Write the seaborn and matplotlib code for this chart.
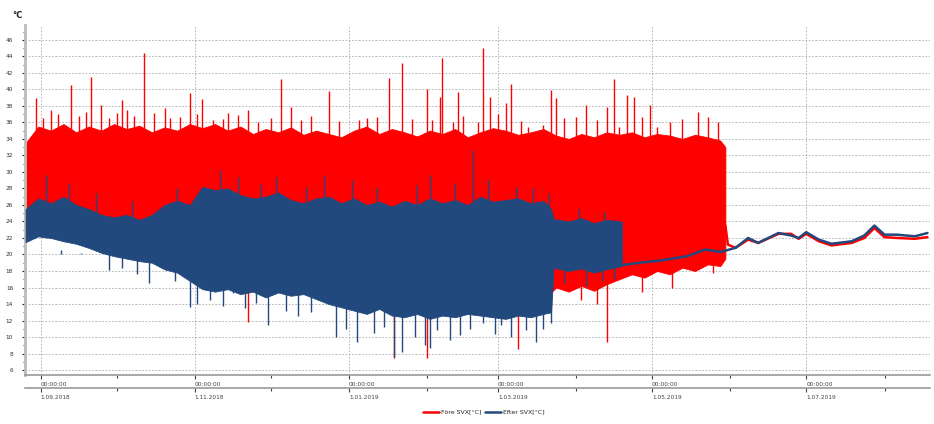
import numpy as np
import pandas as pd
import matplotlib
matplotlib.use("Agg")
import matplotlib.pyplot as plt
import seaborn as sns
from matplotlib.ticker import MultipleLocator

# ---------------- data ----------------
red_dates = ["2018-08-26", "2018-08-31", "2018-09-05", "2018-09-10", "2018-09-15", "2018-09-20",
             "2018-09-25", "2018-09-30", "2018-10-05", "2018-10-10", "2018-10-15", "2018-10-20",
             "2018-10-25", "2018-10-30", "2018-11-04", "2018-11-09", "2018-11-14", "2018-11-19",
             "2018-11-24", "2018-11-29", "2018-12-04", "2018-12-09", "2018-12-14", "2018-12-19",
             "2018-12-24", "2018-12-29", "2019-01-03", "2019-01-08", "2019-01-13", "2019-01-18",
             "2019-01-23", "2019-01-28", "2019-02-02", "2019-02-07", "2019-02-12", "2019-02-17",
             "2019-02-22", "2019-02-27", "2019-03-04", "2019-03-09", "2019-03-14", "2019-03-19",
             "2019-03-24", "2019-03-29", "2019-04-03", "2019-04-08", "2019-04-13", "2019-04-18",
             "2019-04-23", "2019-04-28", "2019-05-03", "2019-05-08", "2019-05-13", "2019-05-18",
             "2019-05-23", "2019-05-28", "2019-05-30"]
red_high = [33.5, 35.5, 35.0, 35.8, 34.8, 35.5, 35.0, 35.8, 35.2, 35.6, 34.8, 35.4, 35.0, 35.8,
            35.3, 35.8, 35.0, 35.5, 34.6, 35.2, 34.8, 35.4, 34.5, 35.0, 34.6, 34.2, 35.0, 35.5,
            34.6, 35.2, 34.8, 34.3, 35.0, 34.6, 35.2, 34.2, 34.8, 35.3, 35.0, 34.5, 34.8, 35.2,
            34.4, 34.0, 34.6, 34.2, 34.8, 34.5, 34.8, 34.2, 34.6, 34.4, 34.0, 34.5, 34.2, 33.8, 33.0]
red_low = [22.3, 22.6, 22.4, 22.0, 22.2, 21.5, 21.2, 21.0, 20.8, 21.0, 20.5, 20.2, 19.5, 18.5,
           17.0, 17.0, 16.5, 16.5, 16.5, 16.5, 16.5, 16.0, 16.0, 16.0, 15.5, 15.0, 14.5, 14.5,
           14.5, 14.5, 14.0, 14.0, 14.0, 14.0, 14.0, 14.0, 14.0, 14.0, 14.0, 14.0, 14.0, 14.5,
           16.0, 15.5, 16.2, 15.6, 16.4, 17.0, 17.6, 17.2, 18.0, 17.6, 18.4, 18.0, 18.8, 18.6, 19.5]

blue_dates = ["2018-08-26", "2018-08-31", "2018-09-05", "2018-09-10", "2018-09-15", "2018-09-20",
              "2018-09-25", "2018-09-30", "2018-10-05", "2018-10-10", "2018-10-15", "2018-10-20",
              "2018-10-25", "2018-10-30", "2018-11-04", "2018-11-09", "2018-11-14", "2018-11-19",
              "2018-11-24", "2018-11-29", "2018-12-04", "2018-12-09", "2018-12-14", "2018-12-19",
              "2018-12-24", "2018-12-29", "2019-01-03", "2019-01-08", "2019-01-13", "2019-01-18",
              "2019-01-23", "2019-01-28", "2019-02-02", "2019-02-07", "2019-02-12", "2019-02-17",
              "2019-02-22", "2019-02-27", "2019-03-04", "2019-03-09", "2019-03-14", "2019-03-19",
              "2019-03-22", "2019-03-23", "2019-03-29", "2019-04-03", "2019-04-08", "2019-04-13",
              "2019-04-19"]
blue_high = [25.5, 26.8, 26.2, 27.0, 26.0, 25.5, 24.8, 24.5, 24.8, 24.2, 24.8, 26.0, 26.5, 26.0,
             28.2, 27.8, 28.0, 27.2, 26.8, 27.0, 27.5, 26.6, 26.2, 26.8, 27.0, 26.2, 26.8, 26.0,
             26.4, 25.8, 26.5, 26.0, 26.8, 26.2, 26.6, 26.0, 27.0, 26.4, 26.6, 26.8, 26.2, 26.5,
             25.5, 24.3, 24.0, 24.4, 23.8, 24.2, 24.0]
blue_low = [21.5, 22.2, 22.0, 21.6, 21.3, 20.8, 20.2, 19.8, 19.5, 19.2, 19.0, 18.2, 17.8, 16.8,
            15.8, 15.5, 15.8, 15.2, 15.5, 14.8, 15.4, 15.0, 15.2, 14.6, 14.0, 13.6, 13.2, 12.8,
            13.4, 12.6, 12.4, 12.8, 12.2, 12.6, 12.4, 12.8, 12.6, 12.4, 12.2, 12.6, 12.4, 12.8,
            13.0, 18.4, 18.0, 18.3, 17.8, 18.2, 18.6]

red_spike_dates = ["2018-08-30", "2018-09-05", "2018-09-13", "2018-09-19", "2018-09-21", "2018-09-25",
                   "2018-10-01", "2018-10-03", "2018-10-05", "2018-10-12", "2018-10-20", "2018-10-22",
                   "2018-10-30", "2018-11-04", "2018-11-08", "2018-11-14", "2018-11-22", "2018-11-26",
                   "2018-12-05", "2018-12-09", "2018-12-24", "2019-01-05", "2019-01-08", "2019-01-17",
                   "2019-01-22", "2019-02-01", "2019-02-03", "2019-02-06", "2019-02-07", "2019-02-11",
                   "2019-02-13", "2019-02-21", "2019-02-23", "2019-02-26", "2019-03-04", "2019-03-06",
                   "2019-03-13", "2019-03-19", "2019-03-22", "2019-03-24", "2019-04-05", "2019-04-13",
                   "2019-04-16", "2019-04-18", "2019-04-21", "2019-04-24", "2019-04-30", "2019-05-03",
                   "2019-05-08", "2019-05-19", "2019-05-23",
                   "2018-09-02", "2018-09-08", "2018-09-16", "2018-09-28", "2018-10-08", "2018-10-16",
                   "2018-10-26", "2018-11-02", "2018-11-12", "2018-11-18", "2018-12-01", "2018-12-13",
                   "2018-12-17", "2018-12-28", "2019-01-12", "2019-01-26", "2019-02-15", "2019-03-01",
                   "2019-03-10", "2019-03-27", "2019-04-01", "2019-04-09", "2019-04-27", "2019-05-13",
                   "2019-05-27"]
red_spike_vals = [39.0, 37.5, 40.5, 37.3, 41.5, 38.1, 37.1, 38.7, 37.5, 44.4, 37.8, 36.5, 39.6, 38.8,
                  36.3, 37.2, 37.5, 36.1, 41.3, 37.9, 39.8, 36.3, 36.5, 41.4, 43.2, 40.0, 36.3, 39.1,
                  43.8, 36.0, 39.7, 36.1, 45.0, 39.1, 38.4, 40.7, 35.5, 35.7, 39.9, 39.0, 38.1, 37.9,
                  41.3, 35.5, 39.3, 39.1, 38.1, 35.5, 36.1, 37.3, 36.7,
                  36.5, 37.0, 36.8, 36.5, 36.8, 37.2, 36.6, 37.0, 36.4, 36.9, 36.5, 36.3, 36.8, 36.2,
                  36.6, 36.4, 36.8, 37.0, 36.2, 36.5, 36.7, 36.3, 36.6, 36.4, 36.0]

red_dip_dates = ["2018-11-22", "2019-01-19", "2019-02-01", "2019-03-09", "2019-04-03", "2019-04-09",
                 "2019-04-13", "2019-04-27", "2019-05-09", "2019-05-25"]
red_dip_vals = [11.8, 7.4, 7.5, 8.6, 14.5, 14.0, 9.4, 15.4, 16.0, 17.8]

blue_spike_dates = ["2018-09-03", "2018-09-12", "2018-11-11", "2018-11-18", "2018-12-03", "2018-12-22",
                    "2019-01-02", "2019-02-02", "2019-02-19", "2019-02-25", "2019-03-21",
                    "2018-09-23", "2018-10-07", "2018-10-25", "2018-11-27", "2018-12-15", "2019-01-12",
                    "2019-01-28", "2019-02-12", "2019-03-08", "2019-03-15", "2019-04-02", "2019-04-12"]
blue_spike_vals = [29.6, 28.7, 30.2, 29.4, 29.4, 29.6, 29.0, 29.6, 32.7, 29.0, 27.4,
                   27.5, 26.5, 28.0, 28.5, 28.2, 28.0, 28.4, 28.6, 28.2, 28.0, 25.5, 25.2]

blue_dip_dates = ["2018-09-09", "2018-09-28", "2018-10-14", "2018-10-30", "2018-11-07", "2018-11-16",
                  "2018-11-25", "2018-11-30", "2018-12-27", "2019-01-04", "2019-01-19", "2019-01-22",
                  "2019-01-31", "2019-02-02", "2019-02-10", "2019-02-23", "2019-03-06", "2019-03-16",
                  "2019-03-22",
                  "2018-09-17", "2018-10-03", "2018-10-09", "2018-10-24", "2018-11-02", "2018-11-12",
                  "2018-11-21", "2018-12-07", "2018-12-12", "2018-12-17", "2018-12-31", "2019-01-11",
                  "2019-01-15", "2019-01-27", "2019-02-05", "2019-02-14", "2019-02-18", "2019-02-28",
                  "2019-03-02", "2019-03-12", "2019-03-19", "2019-03-27", "2019-04-05", "2019-04-11",
                  "2019-04-16"]
blue_dip_vals = [20.5, 18.1, 16.5, 13.6, 14.5, 15.3, 14.1, 11.5, 10.0, 9.4, 7.6, 8.2, 9.0, 8.7, 9.6,
                 11.7, 10.0, 9.4, 11.7,
                 20.2, 18.4, 17.6, 16.8, 14.0, 13.8, 13.5, 13.2, 12.5, 13.0, 11.0, 10.5, 11.2, 10.0,
                 10.8, 10.2, 11.0, 10.4, 11.5, 10.8, 11.0, 16.5, 16.2, 16.8, 17.0]

blue_tail_dates = ["2019-04-19", "2019-04-26", "2019-05-05", "2019-05-15", "2019-05-22", "2019-05-28",
                   "2019-06-03", "2019-06-08", "2019-06-12", "2019-06-20", "2019-06-25", "2019-06-28",
                   "2019-07-01", "2019-07-06", "2019-07-11", "2019-07-19", "2019-07-24", "2019-07-28",
                   "2019-08-01", "2019-08-06", "2019-08-13", "2019-08-18"]
blue_tail_vals = [18.7, 19.0, 19.3, 19.8, 20.6, 20.3, 20.8, 22.0, 21.4, 22.6, 22.3, 22.0, 22.7, 21.8,
                  21.3, 21.6, 22.3, 23.5, 22.4, 22.4, 22.2, 22.6]

red_tail_dates = ["2019-05-30", "2019-05-31", "2019-06-03", "2019-06-08", "2019-06-12", "2019-06-20",
                  "2019-06-25", "2019-06-28", "2019-07-01", "2019-07-06", "2019-07-11", "2019-07-19",
                  "2019-07-24", "2019-07-28", "2019-08-01", "2019-08-06", "2019-08-13", "2019-08-18"]
red_tail_vals = [23.5, 21.2, 20.8, 21.8, 21.4, 22.5, 22.5, 21.9, 22.5, 21.6, 21.1, 21.4, 22.0, 23.2,
                 22.1, 22.0, 21.9, 22.1]

major_ticks = ["2018-09-01", "2018-11-01", "2019-01-01", "2019-03-01", "2019-05-01", "2019-07-01"]
minor_ticks = ["2018-10-01", "2018-12-01", "2019-02-01", "2019-04-01", "2019-06-01", "2019-08-01"]

RED = "#ff0000"
BLUE = "#22497d"

# ---------------- figure ----------------
sns.set_style("white")
plt.rcParams['font.family'] = ['DejaVu Sans']

fig = plt.figure(figsize=(9.34, 4.24), dpi=100)
ax = fig.add_axes([25 / 934, 1 - 375 / 424, 905 / 934, 350 / 424])

td = lambda s: pd.to_datetime(pd.Series(s))

# red series
ax.fill_between(td(red_dates), red_low, red_high, color=RED, linewidth=0.6, edgecolor=RED, zorder=2)
ax.vlines(td(red_spike_dates), 30, red_spike_vals, color=RED, linewidth=1.0, zorder=2)
ax.vlines(td(red_dip_dates), 20, red_dip_vals, color=RED, linewidth=1.0, zorder=2)
sns.lineplot(x=td(red_tail_dates), y=red_tail_vals, color=RED, linewidth=1.8, ax=ax,
             label="Före SVX[°C]", zorder=3)

# blue series
ax.fill_between(td(blue_dates), blue_low, blue_high, color=BLUE, linewidth=0.6, edgecolor=BLUE, zorder=4)
ax.vlines(td(blue_spike_dates), 22, blue_spike_vals, color=BLUE, linewidth=1.0, zorder=4)
ax.vlines(td(blue_dip_dates), 20, blue_dip_vals, color=BLUE, linewidth=1.0, zorder=4)
sns.lineplot(x=td(blue_tail_dates), y=blue_tail_vals, color=BLUE, linewidth=1.8, ax=ax,
             label="Efter SVX[°C]", zorder=5)

handles, labels = ax.get_legend_handles_labels()
ax.get_legend().remove()

xlim = (pd.Timestamp("2018-08-25 18:00"), pd.Timestamp("2019-08-19"))
ax.set_xlim(*xlim)
ax.set_ylim(5.4, 47.8)
ax.set_xlabel("")
ax.set_ylabel("")

# y axis
ax.yaxis.set_major_locator(MultipleLocator(2))
ax.yaxis.set_minor_locator(MultipleLocator(1))
ax.tick_params(axis="y", which="major", labelsize=4.2, length=2.5, width=0.8, color="#222222",
               labelcolor="#333333", pad=6, left=True)
ax.tick_params(axis="y", which="minor", length=1.5, width=0.6, color="#222222", left=True)
ax.grid(axis="y", which="major", linestyle=(0, (2, 2)), color="#aaaaaa", linewidth=0.6)

# x axis (top row: time)
mt = pd.to_datetime(major_ticks)
mn = pd.to_datetime(minor_ticks)
ax.set_xticks(mt)
ax.set_xticklabels(["00:00:00"] * len(mt), ha="left")
ax.set_xticks(mn, minor=True)
ax.tick_params(axis="x", which="major", labelsize=4.2, length=3, width=0.8, color="#444444",
               labelcolor="#444444", pad=2, bottom=True)
ax.tick_params(axis="x", which="minor", length=2, width=0.8, color="#444444", bottom=True)
ax.grid(axis="x", which="major", linestyle=(0, (2, 2)), color="#aaaaaa", linewidth=0.6)

for s in ["top", "right"]:
    ax.spines[s].set_visible(False)
ax.spines["left"].set_color("#bbbbbb")
ax.spines["left"].set_linewidth(2)
ax.spines["bottom"].set_color("#999999")
ax.spines["bottom"].set_linewidth(1.2)
ax.set_axisbelow(True)

# x axis (bottom row: dates) on a flat helper axes
ax2 = fig.add_axes([25 / 934, 1 - 388 / 424, 905 / 934, 0.0005])
ax2.set_xlim(*xlim)
ax2.patch.set_visible(False)
for s in ["top", "right", "left"]:
    ax2.spines[s].set_visible(False)
ax2.spines["bottom"].set_visible(True)
ax2.spines["bottom"].set_color("#999999")
ax2.spines["bottom"].set_linewidth(1.2)
ax2.set_yticks([])
ax2.set_xticks(mt)
ax2.set_xticklabels([f"{d.day}.{d.month:02d}.{d.year}" for d in mt], ha="left")
ax2.set_xticks(mn, minor=True)
ax2.tick_params(axis="x", which="major", labelsize=4.2, length=3, width=0.8, color="#444444",
                labelcolor="#444444", pad=2, bottom=True)
ax2.tick_params(axis="x", which="minor", length=2, width=0.8, color="#444444", bottom=True)

fig.text(12 / 934, 1 - 16 / 424, "°C", fontsize=6, fontweight="bold", ha="left", va="center",
         color="#222222")

fig.legend(handles, labels, loc="center", bbox_to_anchor=(484 / 934, 1 - 412 / 424), ncol=2,
           frameon=False, fontsize=4.5, handlelength=2.5, columnspacing=0.6, handletextpad=0.4)

fig.savefig("out.png", dpi=100)
